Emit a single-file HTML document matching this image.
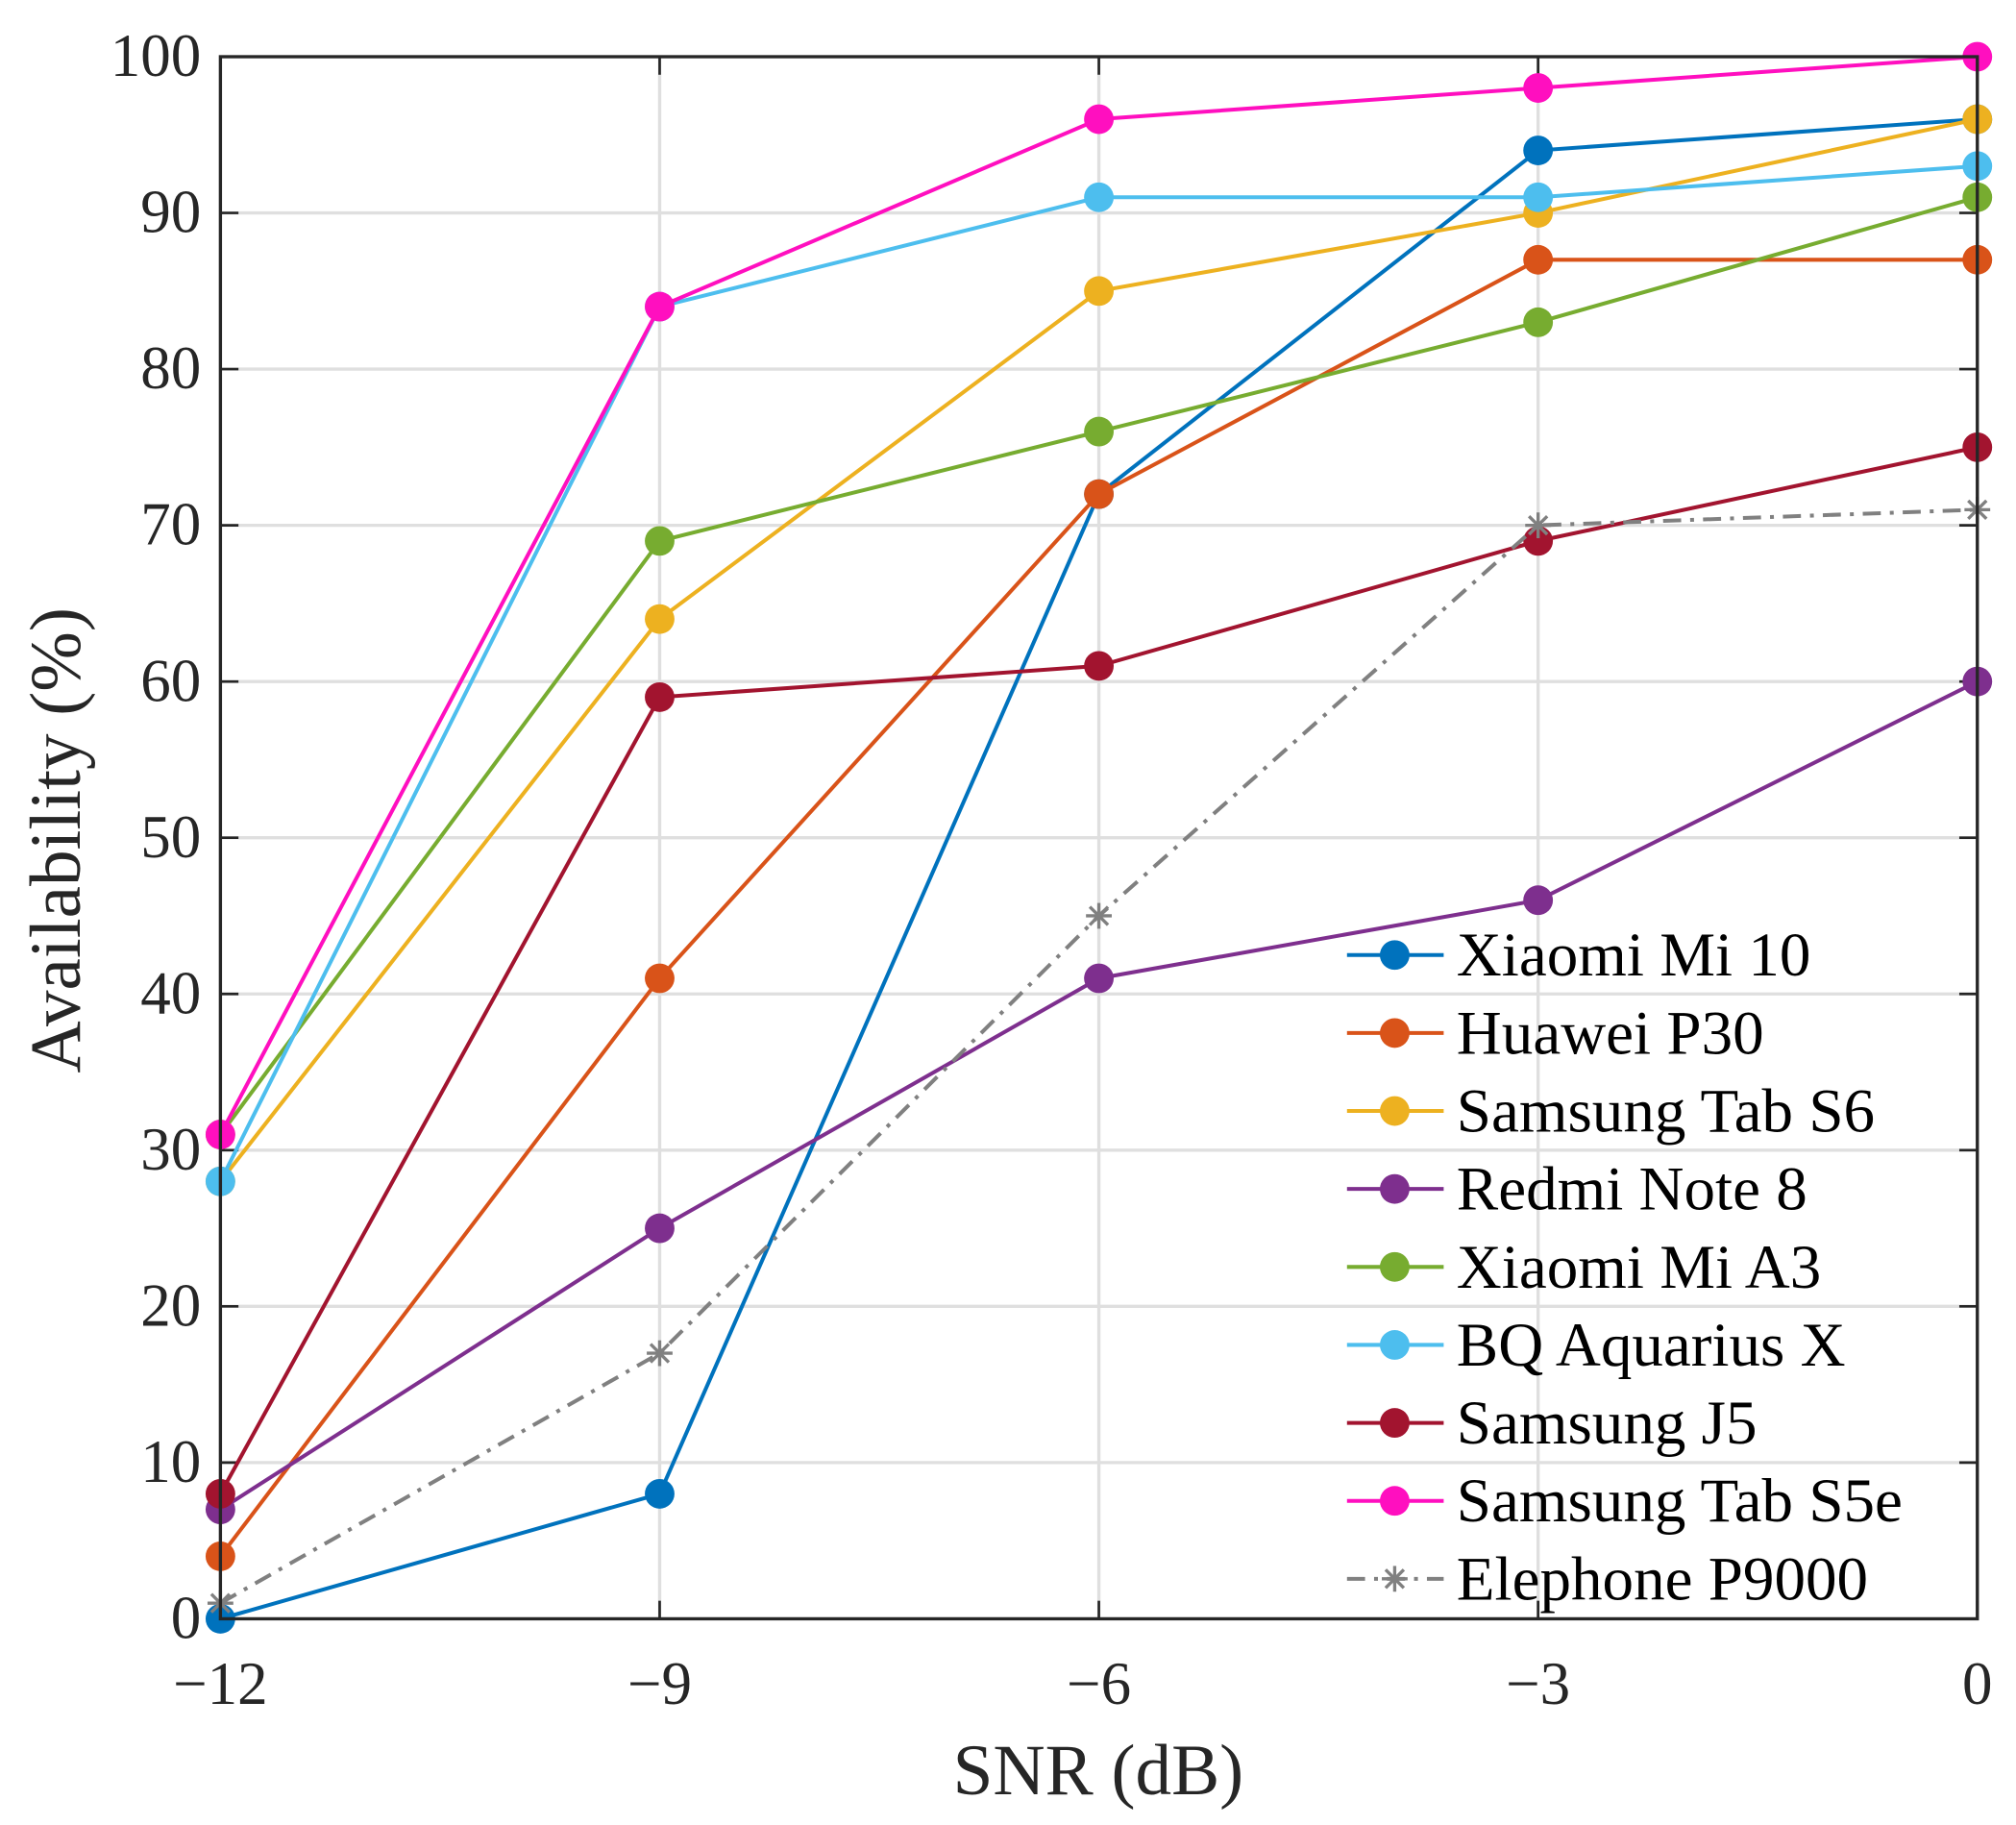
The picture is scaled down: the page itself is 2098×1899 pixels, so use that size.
<!DOCTYPE html>
<html><head><meta charset="utf-8">
<style>html,body{margin:0;padding:0;background:#fff;}svg{display:block;}</style>
</head><body>
<svg id="s" width="2098" height="1899" viewBox="0 0 1564 1416" preserveAspectRatio="none" xmlns="http://www.w3.org/2000/svg" font-family="'Liberation Serif', serif"></svg>
<script>
const s=document.getElementById('s');
const X0=171,X1=1534,Y0=1256,Y1=44;
const xp=v=>X0+(v+12)/12*(X1-X0);
const yp=v=>Y0-v/100*(Y0-Y1);
let h='<rect x="0" y="0" width="1564" height="1416" fill="#fff"/>';
for(let v=10;v<100;v+=10)h+=`<line x1="${X0}" x2="${X1}" y1="${yp(v)}" y2="${yp(v)}" stroke="#dfdfdf" stroke-width="2.5"/>`;
for(let v=-9;v<0;v+=3)h+=`<line y1="${Y0}" y2="${Y1}" x1="${xp(v)}" x2="${xp(v)}" stroke="#dfdfdf" stroke-width="2.5"/>`;
for(let v=0;v<=100;v+=10){const y=yp(v);h+=`<line x1="${X0}" x2="${X0+14}" y1="${y}" y2="${y}" stroke="#262626" stroke-width="2"/><line x1="${X1}" x2="${X1-14}" y1="${y}" y2="${y}" stroke="#262626" stroke-width="2"/><text x="156" y="${y+15}" font-size="47" text-anchor="end" fill="#262626">${v}</text>`;}
for(let v=-12;v<=0;v+=3){const x=xp(v);h+=`<line y1="${Y0}" y2="${Y0-14}" x1="${x}" x2="${x}" stroke="#262626" stroke-width="2"/><line y1="${Y1}" y2="${Y1+14}" x1="${x}" x2="${x}" stroke="#262626" stroke-width="2"/><text x="${x}" y="1322" font-size="47" text-anchor="middle" fill="#262626">${v<0?'\u2212'+(-v):v}</text>`;}
h+=`<text x="852" y="1392" font-size="56" text-anchor="middle" fill="#262626">SNR (dB)</text>`;
h+=`<text transform="translate(62,652) rotate(-90)" font-size="56" text-anchor="middle" fill="#262626">Availability (%)</text>`;
const S=[
["Xiaomi Mi 10","#0072BD",[0,8,72,94,96]],
["Huawei P30","#D95319",[4,41,72,87,87]],
["Samsung Tab S6","#EDB120",[28,64,85,90,96]],
["Redmi Note 8","#7E2F8E",[7,25,41,46,60]],
["Xiaomi Mi A3","#77AC30",[31,69,76,83,91]],
["BQ Aquarius X","#4DBEEE",[28,84,91,91,93]],
["Samsung J5","#A2142F",[8,59,61,69,75]],
["Samsung Tab S5e","#FF0FBF",[31,84,96,98,100]],
["Elephone P9000","#808080",[1,17,45,70,71],1]];
function star(x,y,c){const r=10;let o='';for(let a=0;a<4;a++){const t=a*Math.PI/4;o+=`<line x1="${x-r*Math.cos(t)}" y1="${y-r*Math.sin(t)}" x2="${x+r*Math.cos(t)}" y2="${y+r*Math.sin(t)}" stroke="${c}" stroke-width="2.5"/>`;}return o;}
S.forEach(([n,c,d,dash])=>{
 const pts=d.map((v,i)=>xp(-12+3*i)+','+yp(v)).join(' ');
 h+=`<polyline points="${pts}" fill="none" stroke="${c}" stroke-width="3" ${dash?'stroke-dasharray="14 7 3 7"':''}/>`;
 d.forEach((v,i)=>{const x=xp(-12+3*i),y=yp(v);h+=dash?star(x,y,c):`<circle cx="${x}" cy="${y}" r="11.5" fill="${c}"/>`;});
});
S.forEach(([n,c,d,dash],i)=>{const y=741+i*60.5;
 h+=`<line x1="1045" x2="1120" y1="${y}" y2="${y}" stroke="${c}" stroke-width="3" ${dash?'stroke-dasharray="14 7 3 7"':''}/>`;
 h+=dash?star(1082,y,c):`<circle cx="1082" cy="${y}" r="11.5" fill="${c}"/>`;
 h+=`<text x="1130" y="${y+16}" font-size="48.5" fill="#000">${n}</text>`;});
h+=`<rect x="${X0}" y="${Y1}" width="${X1-X0}" height="${Y0-Y1}" fill="none" stroke="#262626" stroke-width="2.5"/>`;
s.innerHTML=h;
</script>
</body></html>
